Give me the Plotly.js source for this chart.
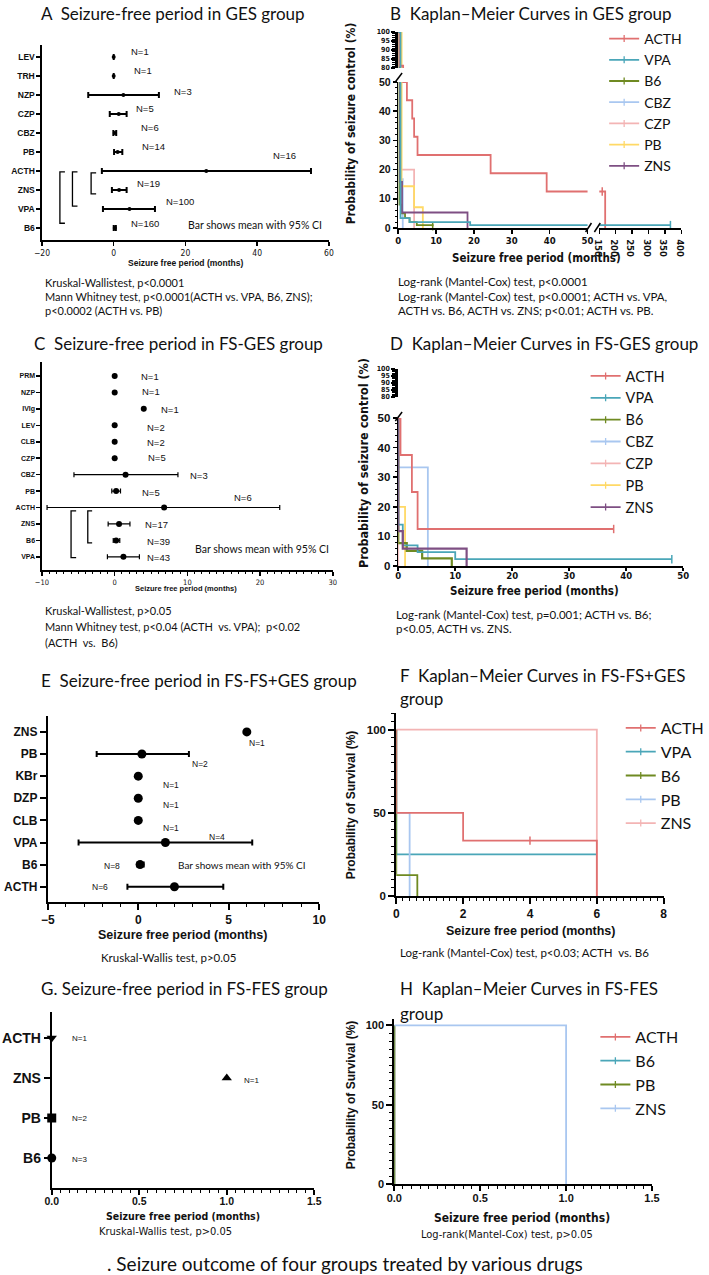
<!DOCTYPE html>
<html><head><meta charset="utf-8">
<script src="https://cdn.plot.ly/plotly-3.0.1.min.js"></script>
<style>html,body{margin:0;padding:0;background:#fff}#chart{width:709px;height:1275px}</style>
</head><body><div id="chart"></div>
<script>
const W=709,H=1275;
// ================= DATA =================
// A: Seizure-free period in GES group (mean, 95% CI, months)
const catsA=['LEV','TRH','NZP','CZP','CBZ','PB','ACTH','ZNS','VPA','B6'];
const meanA=[0,0,2.7,1.4,0.3,1.1,25.8,1.5,4.4,0.3];
const lowA=[null,null,-7.1,-1.1,-0.1,0.1,-3.3,-0.5,-3.0,0.0];
const highA=[null,null,12.6,3.6,0.7,2.4,55,3.6,11.5,0.6];
const nA=[1,1,3,5,6,14,16,19,100,160];
// C: FS-GES group
const catsC=['PRM','NZP','IVIg','LEV','CLB','CZP','CBZ','PB','ACTH','ZNS','B6','VPA'];
const meanC=[0,0,4,0,0,0,1.5,0.2,6.8,0.6,0.2,1.2];
const lowC=[null,null,null,null,null,null,-5.6,-0.4,-9.3,-0.9,-0.2,-1.0];
const highC=[null,null,null,null,null,null,8.7,0.8,22.7,2.1,0.7,3.4];
const nC=[1,1,1,2,2,5,3,5,6,17,39,43];
// E: FS-FS+GES group
const catsE=['ZNS','PB','KBr','DZP','CLB','VPA','B6','ACTH'];
const meanE=[6,0.2,0,0,0,1.5,0.1,2.0];
const lowE=[null,-2.3,null,null,null,-3.3,-0.05,-0.6];
const highE=[null,2.8,null,null,null,6.3,0.3,4.7];
const nE=[1,2,1,1,1,4,8,6];
// G: FS-FES group
const catsG=['ACTH','ZNS','PB','B6'];
const meanG=[0,1,0,0];
const nG=[1,1,2,3];
// B: Kaplan-Meier, GES group (time in months, % seizure control)
const B_ACTH_t=[0,0.3,1.3,2.3,3.7,4.2,5.1,24.4,39.2,168], B_ACTH_s=[100,81.25,50,43.75,37.5,31.25,25,18.75,12.5,0], B_ACTH_c=[159];
const B_VPA_t=[0,0.6,3,19,367], B_VPA_s=[100,3.4,2,1,1], B_VPA_c=[367];
const B_B6_t=[0,0.3,0.8,1.8,3,4.9,9.1], B_B6_s=[100,8,5,3.4,2,1,0.6], B_B6_c=[9.1];
const B_CBZ_t=[0,0.5,1.2], B_CBZ_s=[100,16.7,0];
const B_CZP_t=[0,0.6,4.2], B_CZP_s=[100,20,0];
const B_PB_t=[0,0.9,4.2,6.5], B_PB_s=[100,14.3,7.1,0];
const B_ZNS_t=[0,0.5,1,18.3], B_ZNS_s=[100,15.8,5.3,0];
// D: Kaplan-Meier, FS-GES group
const D_ACTH_t=[0,0,0.4,2.4,3.4,37.8], D_ACTH_s=[100,50,37.5,25,12.5,12.5], D_ACTH_c=[37.8];
const D_VPA_t=[0,0,0.8,3.4,10,48], D_VPA_s=[100,14,7,4.7,2.3,2.3], D_VPA_c=[48];
const D_B6_t=[0,0,1.5,4.2,9.4], D_B6_s=[100,7.7,5.1,2.6,0];
const D_CBZ_t=[0,0,5.2], D_CBZ_s=[100,33.3,0];
const D_CZP_t=[0,0], D_CZP_s=[100,0];
const D_PB_t=[0,0,1.2], D_PB_s=[100,20,0];
const D_ZNS_t=[0,0,0.8,12], D_ZNS_s=[100,11.8,5.9,0];
// F: Kaplan-Meier, FS-FS+GES group
const F_ACTH_t=[0,0,2,6], F_ACTH_s=[100,50,33.3,0], F_ACTH_c=[4];
const F_VPA_t=[0,0,6], F_VPA_s=[100,25,25];
const F_B6_t=[0,0,0.63], F_B6_s=[100,12.5,0];
const F_PB_t=[0,0,0.4], F_PB_s=[100,50,0];
const F_ZNS_t=[0,6], F_ZNS_s=[100,0];
// H: Kaplan-Meier, FS-FES group
const H_ACTH_t=[0,0], H_ACTH_s=[100,0];
const H_B6_t=[0,0], H_B6_s=[100,0];
const H_PB_t=[0,0], H_PB_s=[100,0];
const H_ZNS_t=[0,1], H_ZNS_s=[100,0];

// ================= STYLE / LAYOUT =================
const LATO='Lato, "Open Sans", sans-serif';
const ARIAL='"Liberation Sans", Arial, sans-serif';
const NARROW='"Liberation Sans Narrow", "DejaVu Sans Condensed", "Liberation Sans", sans-serif';
const C={red:'#e07070',teal:'#4aa6b8',olive:'#6f8a22',lblue:'#a9c7f0',pink:'#f3b4b4',yellow:'#ffd966',purple:'#7e4f83'};
const xd=(a,b)=>[a/W,b/W];
const yd=(t,b)=>[1-b/H,1-t/H];
const traces=[];
const idx=a=>a.map((_,i)=>i);

function forest(mean,low,high,xa,ya,msize,sym,thick,capw){
  const tr={type:'scatter',mode:'markers',x:mean,y:idx(mean),xaxis:xa,yaxis:ya,showlegend:false,cliponaxis:false,hoverinfo:'x',
    marker:{color:'#000',size:msize,symbol:sym||'circle'}};
  if(low) tr.error_x={type:'data',symmetric:false,array:high.map((h,i)=>h==null?null:h-mean[i]),
    arrayminus:low.map((l,i)=>l==null?null:mean[i]-l),color:'#000',thickness:thick,width:capw};
  traces.push(tr);
}
function stepVal(t,s,c){let v=s[0];for(let i=0;i<t.length;i++){if(t[i]<=c)v=s[i];}return v;}
function km(t,s,cens,color,pairs,w){
  pairs.forEach(p=>{
    traces.push({type:'scatter',mode:'lines',x:t,y:s,xaxis:p[0],yaxis:p[1],line:{shape:'hv',color:color,width:w||1.8},showlegend:false,hoverinfo:'skip'});
    if(cens){
      const cc=cens.filter(c=>c>=p[2]&&c<=p[3]);
      if(cc.length) traces.push({type:'scatter',mode:'markers',x:cc,y:cc.map(c=>stepVal(t,s,c)),xaxis:p[0],yaxis:p[1],
        marker:{symbol:'line-ns',size:6,line:{width:1.5,color:color}},showlegend:false,cliponaxis:false,hoverinfo:'skip'});
    }
  });
}
function legItem(name,color,xa,ya,leg){
  traces.push({type:'scatter',mode:'lines+markers',x:[null],y:[null],xaxis:xa,yaxis:ya,name:name,legend:leg,
    line:{color:color,width:1.8},marker:{symbol:'line-ns',size:5,line:{width:1.3,color:color}},showlegend:true});
}

// ---- Panel A
forest(meanA,lowA,highA,'x','y',4,'circle',2,3);
// ---- Panel C
forest(meanC,lowC,highC,'x4','y4',6,'circle',1.2,2.5);
// ---- Panel E
forest(meanE,lowE,highE,'x6','y7',9,'circle',2,3);
// ---- Panel G
forest(meanG,null,null,'x8','y9',9,['triangle-down','triangle-up','square','circle']);

// ---- Panel B
const pB=[['x2','y2',0,50],['x3','y2',150,400],['x2','y3',0,50]];
km(B_CBZ_t,B_CBZ_s,null,C.lblue,pB);
km(B_CZP_t,B_CZP_s,null,C.pink,pB);
km(B_PB_t,B_PB_s,null,C.yellow,pB);
km(B_B6_t,B_B6_s,B_B6_c,C.olive,pB);
km(B_ZNS_t,B_ZNS_s,null,C.purple,pB);
km(B_ACTH_t,B_ACTH_s,B_ACTH_c,C.red,pB);
km(B_VPA_t,B_VPA_s,B_VPA_c,C.teal,pB);
[['ACTH',C.red],['VPA',C.teal],['B6',C.olive],['CBZ',C.lblue],['CZP',C.pink],['PB',C.yellow],['ZNS',C.purple]]
  .forEach(d=>legItem(d[0],d[1],'x2','y2','legend'));
// ---- Panel D (upper 80-100 band holds only the axis; curves drop at t=0)
const pD=[['x5','y5',0,50]];
km(D_CZP_t,D_CZP_s,null,C.pink,pD);
km(D_CBZ_t,D_CBZ_s,null,C.lblue,pD);
km(D_PB_t,D_PB_s,null,C.yellow,pD);
km(D_B6_t,D_B6_s,null,C.olive,pD,2.2);
km(D_VPA_t,D_VPA_s,D_VPA_c,C.teal,pD);
km(D_ZNS_t,D_ZNS_s,null,C.purple,pD,2.2);
km(D_ACTH_t,D_ACTH_s,D_ACTH_c,C.red,pD);
[['ACTH',C.red],['VPA',C.teal],['B6',C.olive],['CBZ',C.lblue],['CZP',C.pink],['PB',C.yellow],['ZNS',C.purple]]
  .forEach(d=>legItem(d[0],d[1],'x5','y5','legend2'));
// ---- Panel F
const pF=[['x7','y8',0,8]];
km(F_ZNS_t,F_ZNS_s,null,C.pink,pF);
km(F_VPA_t,F_VPA_s,null,C.teal,pF);
km(F_PB_t,F_PB_s,null,C.lblue,pF);
km(F_B6_t,F_B6_s,null,C.olive,pF);
km(F_ACTH_t,F_ACTH_s,F_ACTH_c,C.red,pF);
[['ACTH',C.red],['VPA',C.teal],['B6',C.olive],['PB',C.lblue],['ZNS',C.pink]]
  .forEach(d=>legItem(d[0],d[1],'x7','y8','legend3'));
// ---- Panel H
const pH=[['x9','y10',0,1.5]];
km(H_ACTH_t,H_ACTH_s,null,C.red,pH);
km(H_B6_t,H_B6_s,null,C.teal,pH);
km(H_PB_t,H_PB_s,null,C.olive,pH);
km(H_ZNS_t,H_ZNS_s,null,C.lblue,pH);
[['ACTH',C.red],['B6',C.teal],['PB',C.olive],['ZNS',C.lblue]]
  .forEach(d=>legItem(d[0],d[1],'x9','y10','legend4'));
// keep the D upper band axis alive with an empty trace
traces.push({type:'scatter',mode:'lines',x:[null],y:[null],xaxis:'x5',yaxis:'y6',showlegend:false,hoverinfo:'skip'});

// ---- axes
function ax(o){return Object.assign({showline:true,linecolor:'#000',linewidth:1.5,ticks:'outside',tickcolor:'#000',tickwidth:1.5,ticklen:4,
  showgrid:false,zeroline:false,fixedrange:true,layer:'above traces'},o);}
const f=(fam,size,bold)=>({family:fam,size:size,color:'#111',weight:bold?'bold':'normal'});
const minor=(d,l)=>({dtick:d,ticklen:l,ticks:'outside',tickcolor:'#000',tickwidth:1});

const layout={width:W,height:H,margin:{l:0,r:0,t:0,b:0},paper_bgcolor:'#fff',plot_bgcolor:'rgba(0,0,0,0)',showlegend:true,
  // A
  xaxis:ax({domain:xd(43,337),range:[-20,60],tickvals:[-20,0,20,40,60],anchor:'y',tickfont:f(NARROW,8.5,false)}),
  yaxis:ax({domain:yd(45,240),range:[9.63,-0.63],tickvals:idx(catsA),ticktext:catsA,anchor:'x',tickfont:f(ARIAL,8.5,true)}),
  // B
  xaxis2:ax({domain:xd(408,602),range:[0,50],dtick:10,anchor:'y2',ticklabelstandoff:-1,tickfont:f(NARROW,9.5,true)}),
  xaxis3:ax({domain:xd(614,698),range:[150,400],tick0:150,dtick:50,anchor:'y2',ticklabelstandoff:-1,tickfont:f(NARROW,9.5,true)}),
  yaxis2:ax({domain:yd(82,228),range:[0,50],dtick:10,anchor:'x2',tickfont:f(ARIAL,10.5,true),minor:minor(2,2)}),
  yaxis3:ax({domain:yd(32,68),range:[80,100],dtick:5,anchor:'x2',linewidth:3,tickfont:f(NARROW,7,true),minor:minor(1,3)}),
  // C
  xaxis4:ax({domain:xd(43,341),range:[-10,30],dtick:10,anchor:'y4',tickfont:f(NARROW,7.5,false),minor:minor(1,2)}),
  yaxis4:ax({domain:yd(362,570),range:[11.8,-0.85],tickvals:idx(catsC),ticktext:catsC,anchor:'x4',tickfont:f(ARIAL,7,true)}),
  // D
  xaxis5:ax({domain:xd(408,700),range:[0,50],dtick:10,anchor:'y5',ticklen:3,ticklabelstandoff:-3,tickfont:f(NARROW,9.5,true)}),
  yaxis5:ax({domain:yd(418,566),range:[0,50],dtick:10,anchor:'x5',tickfont:f(ARIAL,11.5,true),minor:minor(2,2)}),
  yaxis6:ax({domain:yd(369,397),range:[80,100],dtick:5,anchor:'x5',linewidth:3,tickfont:f(NARROW,7,true),minor:minor(1,3)}),
  // E
  xaxis6:ax({domain:xd(49,327),range:[-5,10],dtick:5,anchor:'y7',linewidth:2,ticklen:6,tickwidth:2,tickfont:f(ARIAL,12,true),minor:minor(1,3)}),
  yaxis7:ax({domain:yd(716,902),range:[7.69,-0.72],tickvals:idx(catsE),ticktext:catsE,anchor:'x6',linewidth:2,ticklen:6,tickwidth:2,tickfont:f(ARIAL,12,true)}),
  // F
  xaxis7:ax({domain:xd(406,680),range:[0,8],dtick:2,anchor:'y8',linewidth:2,ticklen:6,tickwidth:2,tickfont:f(ARIAL,12,true),minor:minor(0.2,3)}),
  yaxis8:ax({domain:yd(713,896),range:[0,110],tickvals:[0,50,100],anchor:'x7',linewidth:2,ticklen:6,tickwidth:2,tickfont:f(ARIAL,11.5,true),minor:minor(5,3)}),
  // G
  xaxis8:ax({domain:xd(53,322),range:[0,1.5],dtick:0.5,tickformat:'.1f',anchor:'y9',linewidth:2,ticklen:5,tickwidth:2,ticklabelstandoff:-3,tickfont:f(ARIAL,10.5,true),minor:minor(0.05,3)}),
  yaxis9:ax({domain:yd(1012,1188),range:[3.75,-0.65],tickvals:idx(catsG),ticktext:catsG,anchor:'x8',linewidth:2,ticklen:6,tickwidth:2,tickfont:f(ARIAL,14,true)}),
  // H
  xaxis9:ax({domain:xd(404,668),range:[0,1.5],dtick:0.5,tickformat:'.1f',anchor:'y10',linewidth:2,ticklen:5,tickwidth:2,ticklabelstandoff:-2,tickfont:f(ARIAL,11,true),minor:minor(0.05,3)}),
  yaxis10:ax({domain:yd(1019,1184),range:[0,104],tickvals:[0,50,100],anchor:'x9',linewidth:2,ticklen:6,tickwidth:2,tickfont:f(ARIAL,11,true),minor:minor(5,3)}),
  legend:{x:619/W,y:1-23/H,xanchor:'left',yanchor:'top',font:f(LATO,14,false),bgcolor:'rgba(0,0,0,0)',itemwidth:30,tracegroupgap:0},
  legend2:{x:600/W,y:1-360/H,xanchor:'left',yanchor:'top',font:f(LATO,14.5,false),bgcolor:'rgba(0,0,0,0)',itemwidth:30},
  legend3:{x:636/W,y:1-711/H,xanchor:'left',yanchor:'top',font:f(LATO,16,false),bgcolor:'rgba(0,0,0,0)',itemwidth:30},
  legend4:{x:610/W,y:1-1020/H,xanchor:'left',yanchor:'top',font:f(LATO,16,false),bgcolor:'rgba(0,0,0,0)',itemwidth:30},
  annotations:[],shapes:[]
};

// ---- text annotations (pixel positions)
const A=layout.annotations;
function T(text,x,y,font,xa,extra){A.push(Object.assign({text:text,x:x/W,y:1-y/H,xref:'paper',yref:'paper',showarrow:false,
  xanchor:xa||'left',yanchor:'middle',font:font},extra||{}));}
const titleF=f(LATO,17,false), noteF=f(LATO,11.5,false), noteA=f(LATO,11,false);
T('A  Seizure-free period in GES group',40,13,titleF);
T('B  Kaplan–Meier Curves in GES group',398,13,titleF);
T('C  Seizure-free period in FS-GES group',33,343,titleF);
T('D  Kaplan–Meier Curves in FS-GES group',398,344,titleF);
T('E  Seizure-free period in FS-FS+GES group',40,680,titleF);
T('F  Kaplan–Meier Curves in FS-FS+GES',408,675,titleF);
T('group',408,698,titleF);
T('G. Seizure-free period in FS-FES group',40,988,titleF);
T('H  Kaplan–Meier Curves in FS-FES',408,988,titleF);
T('group',408,1013,titleF);
T('. Seizure outcome of four groups treated by various drugs',353,1263,f(LATO,19,false),'center');
// notes
T('Kruskal-Wallistest, p&lt;0.0001',44,283,noteA);
T('Mann Whitney test, p&lt;0.0001(ACTH vs. VPA, B6, ZNS);',44,297,noteA);
T('p&lt;0.0002 (ACTH vs. PB)',44,311,noteA);
T('Log-rank (Mantel-Cox) test, p&lt;0.0001',406,281,noteF);
T('Log-rank (Mantel-Cox) test, p&lt;0.0001; ACTH vs. VPA,',406,296,noteF);
T('ACTH vs. B6, ACTH vs. ZNS; p&lt;0.01; ACTH vs. PB.',406,310,noteF);
T('Kruskal-Wallistest, p&gt;0.05',44,610,noteA);
T('Mann Whitney test, p&lt;0.04 (ACTH  vs. VPA);  p&lt;0.02',44,626,noteA);
T('(ACTH  vs.  B6)',44,642,noteA);
T('Log-rank (Mantel-Cox) test, p=0.001; ACTH vs. B6;',404,614,noteF);
T('p&lt;0.05, ACTH vs. ZNS.',404,628,noteF);
T('Kruskal-Wallis test, p&gt;0.05',173,957,noteF,'center');
T('Log-rank (Mantel-Cox) test, p&lt;0.03; ACTH  vs. B6',537,952,noteF,'center');
T('Kruskal-Wallis test, p&gt;0.05',170,1231,f(NARROW,11,false),'center');
T('Log-rank(Mantel-Cox) test, p&gt;0.05',519,1234,f(NARROW,11,false),'center');
// axis titles
const XT='Seizure free period (months)';
T(XT,190,263,f(ARIAL,8.5,true),'center');
T(XT,550,258,f(NARROW,11.5,true),'center');
T(XT,191,588,f(ARIAL,7.5,true),'center');
T(XT,548,591,f(NARROW,11.5,true),'center');
T(XT,187,935,f(ARIAL,12.5,true),'center');
T(XT,544,931,f(ARIAL,12.5,true),'center');
T(XT,187,1216,f(NARROW,10.5,true),'center');
T(XT,535,1218,f(NARROW,12,true),'center');
T('Probability of seizure control (%)',360,123,f(NARROW,12,true),'center',{textangle:-90});
T('Probability of seizure control (%)',372,463,f(NARROW,12.5,true),'center',{textangle:-90});
T('Probability of Survival (%)',360,805,f(ARIAL,12,true),'center',{textangle:-90});
T('Probability of Survival (%)',360,1095,f(ARIAL,12,true),'center',{textangle:-90});
// bar notes
T('Bar shows mean with 95% CI',191,225,f(LATO,10.5,false));
T('Bar shows mean with 95% CI',198,549,f(LATO,10.5,false));
T('Bar shows mean with 95% CI',180,865,f(LATO,10,false));
// N labels (label anchor positions in px)
const nPosA=[[132,52],[135,71],[176,92],[137,108],[142,127],[143,146],[278,156],[138,183],[168,201],[132,224]];
nA.forEach((n,i)=>T('N='+n,nPosA[i][0],nPosA[i][1],f(ARIAL,9.5,false)));
const nPosC=[[142,376],[143,392],[163,409],[149,427],[149,443],[150,458],[193,475],[143,492],[238,497],[147,524],[149,541],[149,557]];
nC.forEach((n,i)=>T('N='+n,nPosC[i][0],nPosC[i][1],f(ARIAL,9.5,false)));
const nPosE=[[253,743],[195,764],[165,785],[165,805],[165,828],[212,837],[104,866],[92,887]];
nE.forEach((n,i)=>T('N='+n,nPosE[i][0],nPosE[i][1],f(ARIAL,8.5,false)));
const nPosG=[[72,1038],[248,1080],[72,1118],[72,1159]];
nG.forEach((n,i)=>T('N='+n,nPosG[i][0],nPosG[i][1],f(ARIAL,8,false)));

// ---- significance brackets (data coordinates) and axis-break marks (pixels)
const S=layout.shapes;
function bracket(xr,ya,x0,x1,y0,y1){S.push({type:'path',xref:xr,yref:ya,path:`M${x1},${y0} L${x0},${y0} L${x0},${y1} L${x1},${y1}`,line:{color:'#000',width:1.3}});}
bracket('x','y',-15,-13.6,6.05,8.75);
bracket('x','y',-11.5,-10.1,6.05,7.85);
bracket('x','y',-6.3,-4.9,6.1,7.2);
bracket('x4','y4',-6,-5.3,8.2,11.05);
bracket('x4','y4',-3.7,-3.1,8.2,10.15);
function seg(x0,y0,x1,y1,w){S.push({type:'line',xref:'paper',yref:'paper',x0:x0/W,y0:1-y0/H,x1:x1/W,y1:1-y1/H,line:{color:'#000',width:w||1.5}});}
seg(405,82,412,73); seg(600,232,606,223); seg(609,232,615,223);
seg(405,421,412,412);

Plotly.newPlot('chart',traces,layout,{staticPlot:true,displayModeBar:false});
</script></body></html>
